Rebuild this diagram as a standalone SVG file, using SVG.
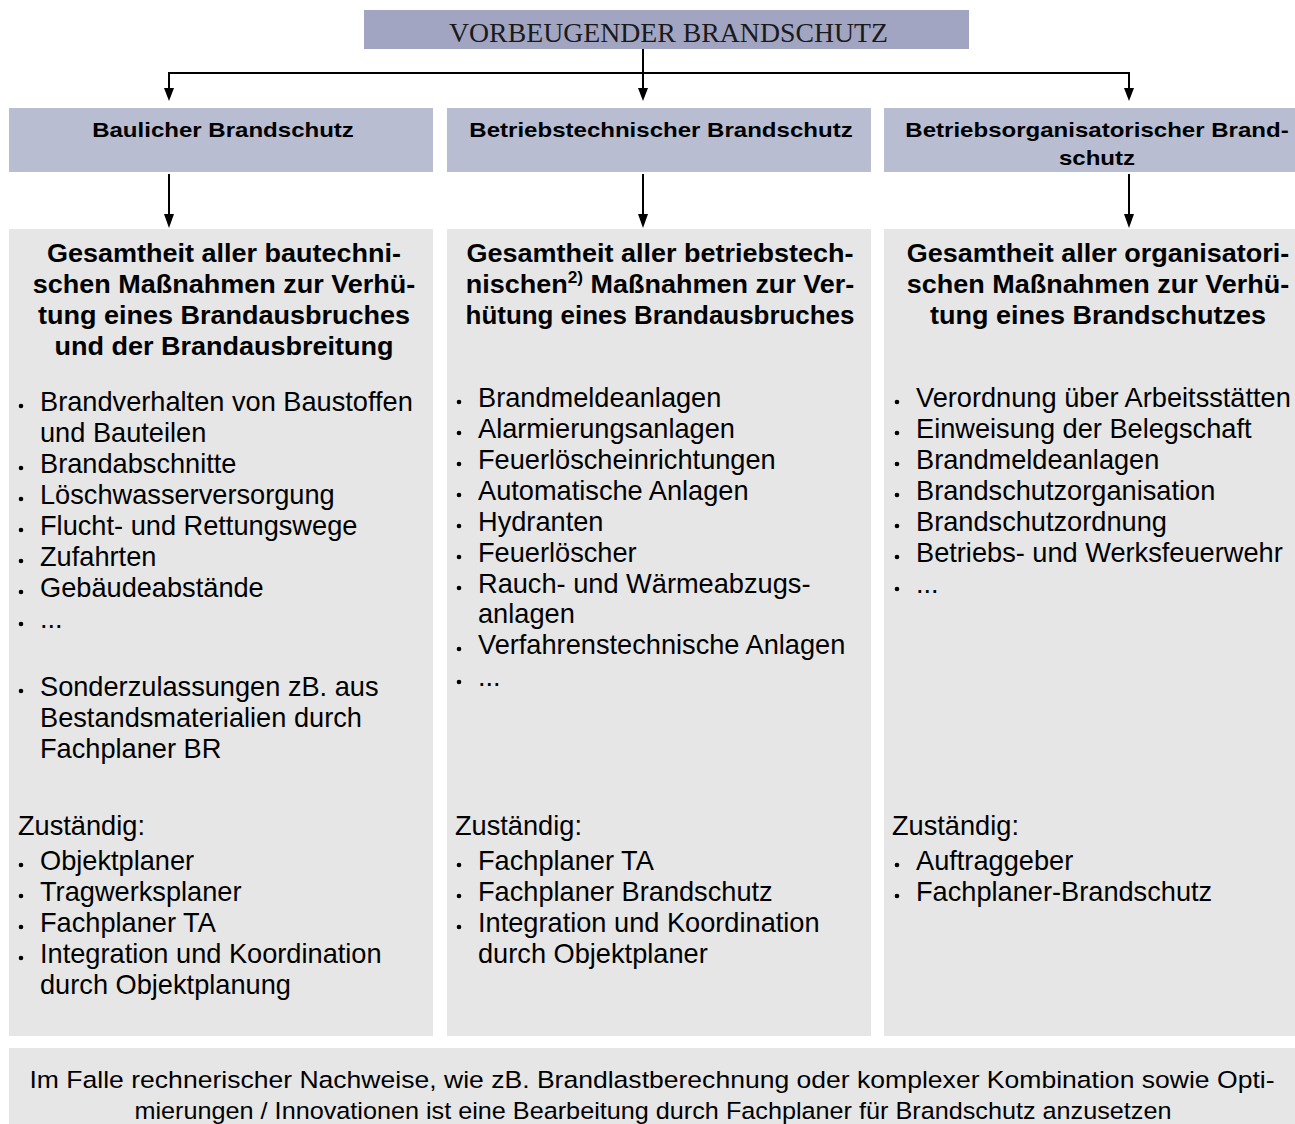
<svg xmlns="http://www.w3.org/2000/svg" xmlns:xlink="http://www.w3.org/1999/xlink" width="1295" height="1124" viewBox="0 0 1295 1124">
<style>
.top{fill:#a1a5c2}
.hdr{fill:#b8bdd2}
.box{fill:#e6e6e6}
.ttl{font-family:"Liberation Serif","Times New Roman",serif;font-size:26.5px;fill:#1a1a1a}
.h{font-family:"Liberation Sans",Arial,sans-serif;font-size:21px;font-weight:bold;fill:#000;text-anchor:middle}
.t{font-family:"Liberation Sans",Arial,sans-serif;font-size:25px;font-weight:bold;fill:#000;text-anchor:middle}
.b{font-family:"Liberation Sans",Arial,sans-serif;font-size:27.2px;fill:#000}
.f{font-family:"Liberation Sans",Arial,sans-serif;font-size:24.5px;fill:#000;text-anchor:middle}
.ln{stroke:#000;stroke-width:2;fill:none}
</style>
<defs>
<circle id="dot" r="2.3" fill="#000"/>
</defs>

<g id="connectors">
<line class="ln" x1="643" y1="49" x2="643" y2="90"/>
<polyline class="ln" points="169,90 169,73 1129,73 1129,90"/>
<path d="M164,88 L174,88 L169,101 Z"/>
<path d="M638,88 L648,88 L643,101 Z"/>
<path d="M1124,88 L1134,88 L1129,101 Z"/>
<line class="ln" x1="169" y1="174" x2="169" y2="216"/>
<line class="ln" x1="643" y1="174" x2="643" y2="216"/>
<line class="ln" x1="1129" y1="174" x2="1129" y2="216"/>
<path d="M164,214 L174,214 L169,228 Z"/>
<path d="M638,214 L648,214 L643,228 Z"/>
<path d="M1124,214 L1134,214 L1129,228 Z"/>
</g>

<g id="top">
<rect class="top" x="364" y="10" width="605" height="39"/>
<text class="ttl" x="449" y="42" textLength="439" lengthAdjust="spacingAndGlyphs">VORBEUGENDER BRANDSCHUTZ</text>
</g>

<g id="h1">
<rect class="hdr" x="9" y="108" width="424" height="64"/>
<g transform="translate(223 0) scale(1.145 1)"><text class="h" x="0" y="137">Baulicher Brandschutz</text></g>
</g>
<g id="h2">
<rect class="hdr" x="447" y="108" width="424" height="64"/>
<g transform="translate(661 0) scale(1.145 1)"><text class="h" x="0" y="137">Betriebstechnischer Brandschutz</text></g>
</g>
<g id="h3">
<rect class="hdr" x="884" y="108" width="411" height="64"/>
<g transform="translate(1097 0) scale(1.145 1)"><text class="h" x="0" y="137">Betriebsorganisatorischer Brand-</text>
<text class="h" x="0" y="165">schutz</text></g>
</g>

<g id="c1">
<rect class="box" x="9" y="229" width="424" height="807"/>
<g transform="translate(224 0) scale(1.08 1)">
<text class="t" x="0" y="262">Gesamtheit aller bautechni-</text>
<text class="t" x="0" y="293">schen Maßnahmen zur Verhü-</text>
<text class="t" x="0" y="324">tung eines Brandausbruches</text>
<text class="t" x="0" y="355">und der Brandausbreitung</text>
</g>
<use xlink:href="#dot" x="21" y="406"/><text class="b" x="40" y="411">Brandverhalten von Baustoffen</text>
<text class="b" x="40" y="442">und Bauteilen</text>
<use xlink:href="#dot" x="21" y="468"/><text class="b" x="40" y="473">Brandabschnitte</text>
<use xlink:href="#dot" x="21" y="499"/><text class="b" x="40" y="504">Löschwasserversorgung</text>
<use xlink:href="#dot" x="21" y="530"/><text class="b" x="40" y="535">Flucht- und Rettungswege</text>
<use xlink:href="#dot" x="21" y="561"/><text class="b" x="40" y="566">Zufahrten</text>
<use xlink:href="#dot" x="21" y="592"/><text class="b" x="40" y="597">Gebäudeabstände</text>
<use xlink:href="#dot" x="21" y="624"/><text class="b" x="40" y="628">...</text>
<use xlink:href="#dot" x="21" y="691"/><text class="b" x="40" y="696">Sonderzulassungen zB. aus</text>
<text class="b" x="40" y="727">Bestandsmaterialien durch</text>
<text class="b" x="40" y="758">Fachplaner BR</text>
<text class="b" x="18" y="835">Zuständig:</text>
<use xlink:href="#dot" x="21" y="865"/><text class="b" x="40" y="870">Objektplaner</text>
<use xlink:href="#dot" x="21" y="896"/><text class="b" x="40" y="901">Tragwerksplaner</text>
<use xlink:href="#dot" x="21" y="927"/><text class="b" x="40" y="932">Fachplaner TA</text>
<use xlink:href="#dot" x="21" y="958"/><text class="b" x="40" y="963">Integration und Koordination</text>
<text class="b" x="40" y="994">durch Objektplanung</text>
</g>

<g id="c2">
<rect class="box" x="447" y="229" width="424" height="807"/>
<g transform="translate(660 0) scale(1.08 1)">
<text class="t" x="0" y="262">Gesamtheit aller betriebstech-</text>
<text class="t" x="0" y="293">nischen<tspan font-size="16" dy="-10">2)</tspan><tspan dy="10"> Maßnahmen zur Ver-</tspan></text>
<text class="t" x="0" y="324" textLength="360" lengthAdjust="spacingAndGlyphs">hütung eines Brandausbruches</text>
</g>
<use xlink:href="#dot" x="459" y="402"/><text class="b" x="478" y="407">Brandmeldeanlagen</text>
<use xlink:href="#dot" x="459" y="433"/><text class="b" x="478" y="438">Alarmierungsanlagen</text>
<use xlink:href="#dot" x="459" y="464"/><text class="b" x="478" y="469">Feuerlöscheinrichtungen</text>
<use xlink:href="#dot" x="459" y="495"/><text class="b" x="478" y="500">Automatische Anlagen</text>
<use xlink:href="#dot" x="459" y="526"/><text class="b" x="478" y="531">Hydranten</text>
<use xlink:href="#dot" x="459" y="557"/><text class="b" x="478" y="562">Feuerlöscher</text>
<use xlink:href="#dot" x="459" y="588"/><text class="b" x="478" y="593">Rauch- und Wärmeabzugs-</text>
<text class="b" x="478" y="623">anlagen</text>
<use xlink:href="#dot" x="459" y="649"/><text class="b" x="478" y="654">Verfahrenstechnische Anlagen</text>
<use xlink:href="#dot" x="459" y="682"/><text class="b" x="478" y="686">...</text>
<text class="b" x="455" y="835">Zuständig:</text>
<use xlink:href="#dot" x="459" y="865"/><text class="b" x="478" y="870">Fachplaner TA</text>
<use xlink:href="#dot" x="459" y="896"/><text class="b" x="478" y="901">Fachplaner Brandschutz</text>
<use xlink:href="#dot" x="459" y="927"/><text class="b" x="478" y="932">Integration und Koordination</text>
<text class="b" x="478" y="963">durch Objektplaner</text>
</g>

<g id="c3">
<rect class="box" x="884" y="229" width="411" height="807"/>
<g transform="translate(1098 0) scale(1.08 1)">
<text class="t" x="0" y="262">Gesamtheit aller organisatori-</text>
<text class="t" x="0" y="293">schen Maßnahmen zur Verhü-</text>
<text class="t" x="0" y="324">tung eines Brandschutzes</text>
</g>
<use xlink:href="#dot" x="897" y="402"/><text class="b" x="916" y="407">Verordnung über Arbeitsstätten</text>
<use xlink:href="#dot" x="897" y="433"/><text class="b" x="916" y="438">Einweisung der Belegschaft</text>
<use xlink:href="#dot" x="897" y="464"/><text class="b" x="916" y="469">Brandmeldeanlagen</text>
<use xlink:href="#dot" x="897" y="495"/><text class="b" x="916" y="500">Brandschutzorganisation</text>
<use xlink:href="#dot" x="897" y="526"/><text class="b" x="916" y="531">Brandschutzordnung</text>
<use xlink:href="#dot" x="897" y="557"/><text class="b" x="916" y="562">Betriebs- und Werksfeuerwehr</text>
<use xlink:href="#dot" x="897" y="589"/><text class="b" x="916" y="593">...</text>
<text class="b" x="892" y="835">Zuständig:</text>
<use xlink:href="#dot" x="897" y="865"/><text class="b" x="916" y="870">Auftraggeber</text>
<use xlink:href="#dot" x="897" y="896"/><text class="b" x="916" y="901">Fachplaner-Brandschutz</text>
</g>

<g id="note">
<rect class="box" x="9" y="1048" width="1286" height="76"/>
<text class="f" x="652" y="1088" textLength="1245" lengthAdjust="spacingAndGlyphs">Im Falle rechnerischer Nachweise, wie zB. Brandlastberechnung oder komplexer Kombination sowie Opti-</text>
<text class="f" x="653" y="1119" textLength="1037" lengthAdjust="spacingAndGlyphs">mierungen / Innovationen ist eine Bearbeitung durch Fachplaner für Brandschutz anzusetzen</text>
</g>
</svg>
